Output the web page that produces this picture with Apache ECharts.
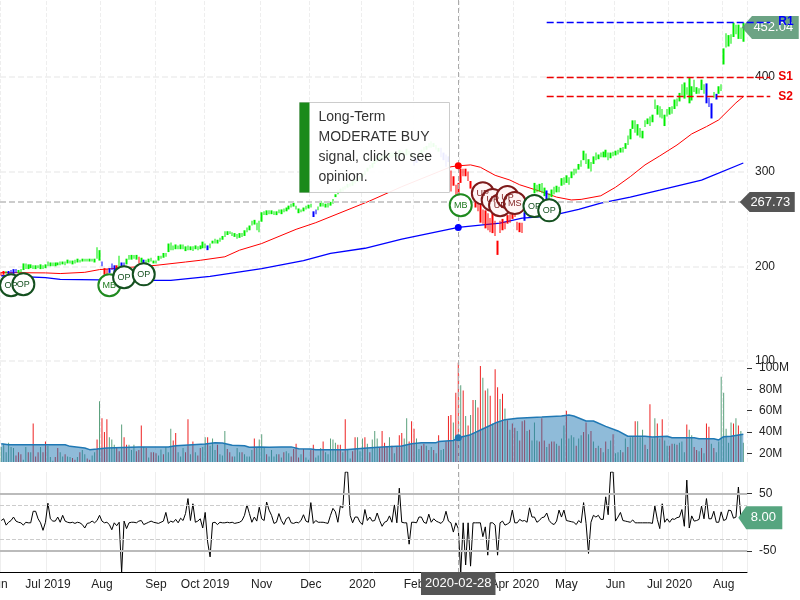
<!DOCTYPE html>
<html><head><meta charset="utf-8">
<style>html,body{margin:0;padding:0;background:#fff}#c{width:800px;height:600px}</style>
<script src="https://cdn.jsdelivr.net/npm/echarts@6/dist/echarts.min.js"></script>
</head><body><div id="c"></div>
<script>
const marketHolidays = ['2019-07-04','2019-09-02','2019-11-28','2019-12-25','2020-01-01','2020-01-20','2020-02-17','2020-04-10','2020-05-25','2020-07-03'];
const monthLabels = ['Jun','Jul 2019','Aug','Sep','Oct 2019','Nov','Dec','2020','Feb','Mar','Apr 2020','May','Jun','Jul 2020','Aug'];
const priceTicks = [100,200,300,400];
const volumeTicks = [20,40,60,80,100];
const oscTicks = [-50,50];

const lows = [
190,191,192,191,192,192,193,193,194,196,197,197,198,197,197,198,197,197,198,200,
200,200,200,201,201,202,201,203,203,202,203,204,204,205,205,205,205,205,204,208,
206,200,191,191,193,196,194,198,199,200,200,202,207,207,208,207,203,204,203,203,
204,205,203,203,206,208,209,210,215,217,217,218,218,218,218,216,217,217,216,218,
217,218,219,219,217,219,224,224,224,226,228,231,233,234,232,231,229,230,231,232,
236,238,243,244,238,236,247,254,254,255,255,254,254,256,255,257,258,260,262,263,
260,256,257,258,260,261,262,252,255,259,263,263,262,262,264,266,273,276,278,279,
281,283,284,285,287,289,291,294,296,300,303,304,308,310,311,313,312,314,315,314,
316,314,317,318,316,317,318,315,306,309,315,318,321,323,325,325,326,323,321,315,
312,305,310,279,285,275,272,288,295,295,290,282,272,262,258,246,245,240,238,236,
235,232,212,235,238,239,245,246,250,252,238,236,235,248,255,262,268,277,278,279,
277,274,271,271,273,276,278,278,285,286,288,286,293,296,298,302,305,312,308,303,
300,308,312,313,315,315,315,312,314,316,317,318,320,320,324,328,334,345,341,338,
336,335,347,350,348,352,366,360,357,356,348,358,360,361,366,369,374,380,377,381,
372,375,384,382,382,386,382,372,368,356,378,376,382,385,413,431,432,435,442,445,
440,440,437];
const highs = [
194,195,195,195,196,197,197,196,197,203,203,202,202,201,201,201,202,201,202,205,
204,204,204,204,205,205,205,207,206,206,207,208,207,208,208,208,208,208,208,220,
217,205,198,197,198,203,201,201,211,204,204,208,212,212,212,212,210,209,207,207,
208,209,206,206,211,211,214,214,224,225,222,223,222,223,223,221,222,221,221,222,
221,222,226,224,222,224,227,229,228,230,232,237,237,237,236,235,234,235,235,238,
241,243,248,249,246,248,257,258,259,259,259,258,258,260,260,261,262,264,266,267,
264,261,260,262,264,265,266,258,260,263,269,267,266,267,268,271,276,280,282,284,
285,287,288,290,292,293,295,298,301,304,307,309,313,315,316,317,318,318,320,320,
320,319,323,322,320,324,322,319,315,314,320,323,326,327,330,332,330,328,325,325,
320,318,316,301,295,286,288,303,303,303,300,290,280,272,268,266,260,259,256,251,
256,248,227,248,250,247,254,255,256,258,247,246,246,257,262,268,276,288,286,287,
288,283,280,277,281,284,285,284,293,294,296,294,300,303,303,308,312,322,319,313,
310,316,320,318,320,321,323,320,320,321,322,323,325,326,330,338,345,354,354,350,
346,343,354,356,358,360,376,370,369,366,360,366,368,369,376,377,383,392,394,389,
399,390,397,389,388,397,392,393,378,372,384,382,390,392,430,446,444,445,457,455,
455,452,457];

const redBars = [0,1,42,43,47,56,183,184,185,186,187,188,189,190,191,192,193,194,195,196,197,198,199,200,201,202,203,204,205,206,207,208,209,210,211,212];
const blueBars = [3,4,5,6,41,44,45,46,49,50,58,84,127,128,168,169,179,180,181,182,213,222,287,288,289,291];

const slowAverage = [[0,190],[18,188],[24,186.2],[40,185.7],[61,185],[69,185],[77,187.3],[85,189.4],[106,197.5],[123,206],[134,213.7],[148,219],[163,228.6],[186,241],[203,245.5],[212,250.8],[223,253],[235,260],[244,266.6],[256,273],[268,280.4],[285,291],[302,309]];
const fastAverage = [[0,193.3],[18,193],[24,192.3],[34,193.6],[40,196.5],[53,199],[63,201],[75,204.5],[81,206.3],[91,210],[97,217],[106,224],[120,239],[128,246],[150,269],[163,284],[183,305],[186,306],[191,307],[195,304.5],[201,296],[207,291],[211,286],[220,278.6],[226,273],[232,270],[236,270.6],[244,274.4],[250,283.4],[256,294.6],[262,307],[268,316.5],[275,328],[281,339.7],[287,347.4],[292,354.5],[299,372.5],[302,379]];

const volumes = [
26,29,21,30,26,25,18,21,19,14,26,21,21,48,17,21,26,21,31,27,
16.5,13,16.5,25,21,17,19,17,16.6,15.6,14,16.5,21,23,19,15,14,18,21,33,
69,53,40,52,35,33,28,25,22,47,35,28,28,23,28,22,23,46,26,25,
16,21,21,20,18,23.5,19,26,21,43,32,39,21,17,25,21,52,19,31,21,
18,25,26,35,35,27,34,23,28,19,18,41,24,21,17,17,25,21,21,19,
17,17,23,34,26,33,38,25,19,17,23,17,19,19,16,21,22,20,17,24,
29,16,19,24,16,14,23,28,16,18,25,31,21,19,34,33,30,28,28,21,
52,23,15,22,35,35,22,34,35,29,21,33,41,34,26,41,30,26,35,27,
20,26,37,39,34,53,31,50,43,34,24,27,29,27,23,26,23,20,37,23,
24,31,55,56,49,77,105,84,79,55,46,56,70,70,63,102,91,79,81,74,
48,99,82,71,76,62,51,42,48,44,41,32,50,51,41,42,32,49,32,31,
53,32,26,29,31,31,29,27,34,46,60,34,37,35,27,34,37,40,49,38,
41,31,25,27,25,21,31,24,32,38,20,21,23,21,34,26,35,36,50,50,
35,42,28,24,66,34,53,48,34,52,32,27,27,29,29,28,30,31,21,47,
42,37,26,23,22,25,20,48,45,29,25,21,31,92,77,43,30,49,48,53,
46,41,30];
const volumeRed = [6,7,8,11,13,14,15,17,18,22,23,26,29,30,32,35,36,39,41,42,43,47,48,50,51,55,56,57,59,61,62,63,66,70,71,75,76,78,80,81,84,88,92,93,94,98,103,108,113,115,118,119,120,121,123,126,127,131,137,138,140,143,144,148,150,154,155,156,157,159,161,162,163,166,167,168,171,172,174,176,178,181,182,183,185,186,188,190,192,194,195,197,199,201,202,204,206,208,209,211,212,213,215,219,220,221,223,224,225,227,230,234,237,238,240,242,244,246,249,253,255,258,262,264,267,269,272,273,275,279,282,283,285,287,288,290,298,300];
const volumeAverage = [[0,29],[3,28],[26,28],[28,26.5],[34,25],[36,23.4],[39,24],[43,25],[56,26],[68,26],[71,27],[83,28.7],[87,30],[90,29.7],[94,27.5],[99,27],[101,25.6],[105,26],[109,25.6],[114,26],[118,26],[121,24.3],[126,24],[128,23.4],[140,23.4],[145,24.3],[149,25],[155,26],[163,26.8],[167,29],[171,30],[177,30],[178,31],[184,32],[186,34.6],[191,37.5],[197,44],[201,48.4],[205,51.6],[210,53],[220,54],[228,55],[231,56],[233,55],[238,50.3],[241,50.3],[246,45.3],[251,41],[255,36],[262,36],[265,35.3],[271,36],[273,34.6],[282,34.6],[284,33.7],[290,33.7],[292,32.5],[294,35.6],[297,36],[302,37.8]];

const oscillator = [
3,6,-5,0,3,9,2,0,-1,-5,0,-1,-1,19,19,6,-1,-14,0,33,
6,2,2,9,0,12,2,0,-1,0,-2,0,-1,-4,-10,-2,-1,2,-1,3,
12,2,-1,0,-4,-13,-1,-6,0,-87,2,-11,-1,0,0,-1,2,3,-4,-2,
0,2,0,-1,-2,0,2,17,-2,2,0,5,-1,7,3,15,41,3,32,0,
2,6,-10,17,-34,-60,-1,0,-4,0,-1,-1,0,-1,0,-2,-1,0,3,12,
30,15,0,9,2,26,6,3,35,21,12,-2,0,15,3,-4,6,9,-1,-2,
0,-1,3,13,2,0,34,-2,3,0,0,0,-1,-2,12,24,18,0,28,25,
87,87,12,-1,9,9,0,-4,22,3,9,2,3,16,3,-7,0,2,11,0,
30,-1,59,0,-1,-1,-38,0,0,-1,9,9,0,-2,14,0,6,2,0,-2,
3,19,2,-1,-17,-1,-11,-87,-1,-74,-1,-76,-1,-1,-1,-1,-25,-8,-57,-1,
-1,-5,-57,-1,2,-5,-3,0,21,-1,-1,5,2,3,0,25,9,9,0,3,
8,9,16,3,-2,-4,2,21,9,21,3,2,1,0,-4,3,-1,34,-2,-54,
0,12,9,12,5,5,44,13,87,87,2,9,17,3,2,1,0,4,-1,-1,
-1,-1,-1,-1,-1,-2,28,5,-11,32,0,6,0,6,5,8,9,22,-7,73,
-10,11,2,3,5,28,6,41,6,6,19,0,0,18,3,5,21,20,7,9,
61,9,8];

const signalLabels = ['OP','OP','MB','OP','OP','MB','UP','UP','UP','UP','MS','OP','OP'];
const signalIndex = [4,9,44,50,58,187,196,200,203,206,209,217,223];
const signalPrice = [180,181,180,188.4,191.5,264.5,277,270,264.5,273,266.7,263.5,259];

const levelNames = ['R1','S1','S2'];
const levelValues = [458,400,379.5];
const lastPrice = 452.04, cursorPrice = 267.73, lastOsc = 8.00, cursorDate = '2020-02-28';
const oscHeavy = [-50,50], oscLight = [-30,30];

// trading calendar
const dates = [];
for (let d = new Date(Date.UTC(2019,5,4)); dates.length < 326; d = new Date(d.getTime()+864e5)) {
  const wd = d.getUTCDay(), s = d.toISOString().slice(0,10);
  if (wd !== 0 && wd !== 6 && !marketHolidays.includes(s)) dates.push(s);
}
const axisDates = dates.slice(0,304);
const monthStart = {};
let mIdx = 0;
axisDates.forEach((s,i)=>{ if (i===0 || s.slice(0,7)!==axisDates[i-1].slice(0,7)) monthStart[i]=monthLabels[mIdx++]; });
const isMonth = i => monthStart[i] !== undefined;
const cursorIdx = dates.indexOf(cursorDate);
const lastIdx = lows.length-1;

const bars = lows.map((l,i)=>{
  const c = redBars.includes(i)?'#ff0000':blueBars.includes(i)?'#0000ff':'#00ee00';
  return {value:[l,highs[i],l,highs[i]],itemStyle:{color:c,color0:c,borderColor:c,borderColor0:c,borderWidth:0}};
});
const volBars = volumes.map((v,i)=>({value:v,itemStyle:{color:volumeRed.includes(i)?'#ee2222':'#5aa07c'}}));
const pairs = a => a.map(p=>[dates[p[0]],p[1]]);

const signalStyle = {
  OP:{b:'#14501f',t:'#14501f',f:'#ffffff'},
  MB:{b:'#1f8a1f',t:'#1f7a1f',f:'#ffffff'},
  UP:{b:'#7d1a1a',t:'#7d1a1a',f:'#fff6f6'},
  MS:{b:'#7d1a1a',t:'#7d1a1a',f:'#fff6f6'}
};
const signalData = signalLabels.map((n,i)=>{
  const st = signalStyle[n];
  return {value:[dates[signalIndex[i]],signalPrice[i]],name:n,
    itemStyle:{color:st.f,borderColor:st.b,borderWidth:2,opacity:1},
    label:{show:true,formatter:n,color:st.t,fontSize:9,position:'inside'}};
});

const FONT = '"Liberation Sans", Arial, sans-serif';
const vSplit = {show:true,interval:(i)=>isMonth(i),lineStyle:{color:'#eeeeee',type:'dashed',width:1}};
const tag = (val,idx,color,txt,w,h,off)=>({
  coord:[dates[idx],val],symbol:'path://M0,50 L18,0 L100,0 L100,100 L18,100 Z',symbolKeepAspect:false,
  symbolSize:[w,h],symbolOffset:[off,0],itemStyle:{color},
  label:{show:true,position:'inside',formatter:txt,color:'#fff',fontSize:13,fontFamily:FONT,offset:[3,0]}
});
const dot = (val,color)=>({coord:[dates[cursorIdx],val],symbol:'circle',symbolSize:7,itemStyle:{color},label:{show:false}});
const gridBase = {outerBoundsMode:'none',containLabel:false};

const option = {
  animation:false,
  backgroundColor:'#fff',
  textStyle:{fontFamily:FONT},
  grid:[
    {...gridBase,left:0,width:747,top:1,height:360},
    {...gridBase,left:0,width:747,top:362,height:100},
    {...gridBase,left:0,width:747,top:472,height:100.5},
    {...gridBase,left:0,width:801,top:1,height:360},
    {...gridBase,left:0,width:801,top:0,height:573}
  ],
  xAxis:[
    {gridIndex:0,type:'category',data:axisDates,boundaryGap:true,axisLine:{show:false},axisTick:{show:false},axisLabel:{show:false},splitLine:vSplit},
    {gridIndex:1,type:'category',data:axisDates,boundaryGap:true,axisLine:{show:false},axisTick:{show:false},axisLabel:{show:false},splitLine:vSplit},
    {gridIndex:2,type:'category',data:axisDates,boundaryGap:true,
      axisLine:{show:true,onZero:false,lineStyle:{color:'#000',width:1}},axisTick:{show:false},
      axisLabel:{show:true,interval:(i)=>isMonth(i),formatter:(v,i)=>i===0?monthStart[i]+'  ':(monthStart[i]||''),color:'#222',fontSize:12,margin:6,hideOverlap:false},
      splitLine:{show:true,interval:(i)=>isMonth(i),lineStyle:{color:'#eeeeee',width:1}}},
    {gridIndex:3,type:'category',data:dates,show:false},
    {gridIndex:4,type:'category',data:dates,show:false}
  ],
  yAxis:[
    {gridIndex:0,type:'value',position:'right',min:100,max:480,interval:100,
      axisLine:{show:false},axisTick:{show:false},
      axisLabel:{color:'#222',fontSize:12,margin:8,customValues:priceTicks},
      splitLine:{show:true,showMaxLine:false,lineStyle:{color:'#eeeeee',type:'dashed',width:1.5}}},
    {gridIndex:1,type:'value',position:'right',min:11.8,max:105.8,
      axisLine:{show:false},axisTick:{show:true,length:5,lineStyle:{color:'#333'},customValues:volumeTicks},
      axisLabel:{color:'#222',fontSize:12,margin:12,customValues:volumeTicks,formatter:v=>v+'M'},
      splitLine:{show:false}},
    {gridIndex:2,type:'value',position:'right',min:-87,max:87,
      axisLine:{show:false},axisTick:{show:true,length:5,lineStyle:{color:'#333'},customValues:oscTicks},
      axisLabel:{color:'#222',fontSize:12,margin:12,customValues:oscTicks},
      splitLine:{show:false}},
    {gridIndex:3,type:'value',min:100,max:480,show:false},
    {gridIndex:4,type:'value',min:0,max:1,show:false}
  ],
  series:[
    {type:'bar',xAxisIndex:1,yAxisIndex:1,data:volBars,barWidth:1,z:2,silent:true},
    {type:'line',xAxisIndex:1,yAxisIndex:1,data:pairs(volumeAverage),showSymbol:false,z:3,silent:true,
      lineStyle:{color:'#1f78b4',width:1.5},areaStyle:{color:'rgba(31,119,180,0.5)',opacity:1},
      markPoint:{silent:true,data:[dot(34.6,'#1f78b4')],z:6}},
    {type:'line',xAxisIndex:2,yAxisIndex:2,data:oscillator.map((v,i)=>[dates[i],v]),showSymbol:false,z:3,silent:true,
      lineStyle:{color:'#000',width:1},
      markLine:{silent:true,symbol:'none',animation:false,label:{show:false},
        data:oscHeavy.map(v=>({yAxis:v,lineStyle:{color:'#bbbbbb',width:2,type:'solid'}}))
          .concat(oscLight.map(v=>({yAxis:v,lineStyle:{color:'#cccccc',width:1,type:'dashed'}})))},
      markPoint:{silent:true,z:6,data:[tag(lastOsc,lastIdx,'#56a57f',lastOsc.toFixed(2),44,23,17)]}},
    {type:'line',xAxisIndex:0,yAxisIndex:0,data:pairs(slowAverage),showSymbol:false,z:3,silent:true,
      lineStyle:{color:'#0000ff',width:1.3},
      markPoint:{silent:true,z:6,data:[dot(241,'#0000ff')]}},
    {type:'line',xAxisIndex:0,yAxisIndex:0,data:pairs(fastAverage),showSymbol:false,z:3,silent:true,
      lineStyle:{color:'#ff0000',width:1},
      markPoint:{silent:true,z:6,data:[dot(306,'#ff0000')]}},
    {type:'candlestick',xAxisIndex:0,yAxisIndex:0,data:bars,barWidth:2,z:4,silent:true,clip:false},
    {type:'scatter',xAxisIndex:0,yAxisIndex:0,data:signalData,symbol:'circle',symbolSize:22,z:5,silent:true},
    {type:'line',xAxisIndex:3,yAxisIndex:3,data:[],z:7,silent:true,
      markLine:{silent:true,symbol:'none',animation:false,z:9,
        data:levelNames.map((n,i)=>{
          const c = n[0]==='R'?'#0000ff':'#ee0000';
          return [{xAxis:dates[222],yAxis:levelValues[i],lineStyle:{color:c,type:[7,3],width:1.3}},
                  {xAxis:dates[313],yAxis:levelValues[i],label:{show:true,position:'end',formatter:n,color:c,fontWeight:'bold',fontSize:12,distance:8}}];
        })},
      markPoint:{silent:true,z:6,data:[
        tag(lastPrice,lastIdx,'rgba(88,150,115,0.88)',lastPrice.toFixed(2),57,23,27),
        tag(cursorPrice,lastIdx,'#555555',cursorPrice.toFixed(2),55,20,24)
      ]}},
    {type:'line',xAxisIndex:0,yAxisIndex:0,data:[],z:2,silent:true,
      markLine:{silent:true,symbol:'none',animation:false,label:{show:false},
        data:[{yAxis:cursorPrice,lineStyle:{color:'#cccccc',width:2,type:[6,3]}}]}},
    {type:'line',xAxisIndex:4,yAxisIndex:4,data:[],z:6,silent:true,
      markLine:{silent:true,symbol:'none',animation:false,
        data:[{xAxis:cursorDate,lineStyle:{color:'#aaaaaa',width:1,type:[5,3]},
          label:{show:true,position:'start',formatter:cursorDate,color:'#fff',backgroundColor:'#555555',fontSize:13,padding:[5,4],distance:-1}}]}}
  ],
  graphic:[{type:'group',left:299,top:102,children:[
    {type:'rect',z:100,shape:{x:0,y:0,width:150,height:90},style:{fill:'rgba(255,255,255,0.92)',stroke:'#cccccc',lineWidth:1}},
    {type:'rect',z:101,shape:{x:0,y:0,width:10,height:90},style:{fill:'#1a8a1a'}},
    {type:'text',z:102,x:19,y:5,style:{text:'Long-Term\nMODERATE BUY\nsignal, click to see\nopinion.',fill:'#333',font:'14px '+FONT,lineHeight:20}}
  ]}]
};
echarts.init(document.getElementById('c')).setOption(option);
</script></body></html>
